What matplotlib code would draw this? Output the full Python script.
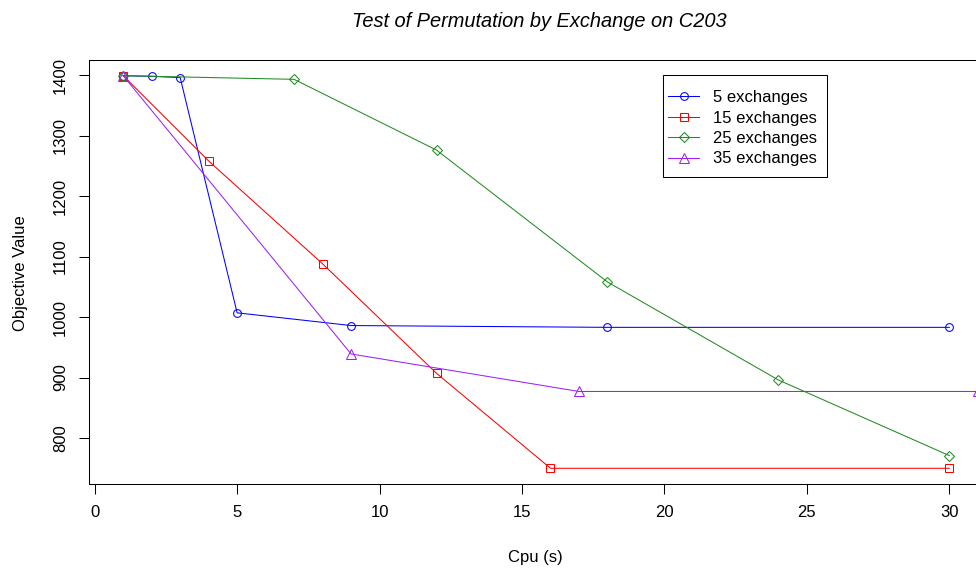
import matplotlib
matplotlib.use("Agg")
import matplotlib.pyplot as plt
from matplotlib.patches import Rectangle

# objective value reached vs cpu time, one run per exchange count
cpu_5 = [1, 2, 3, 5, 9, 18, 30]
obj_5 = [1399, 1398, 1396, 1007, 986, 983, 983]

cpu_15 = [1, 4, 8, 12, 16, 30]
obj_15 = [1399, 1258, 1088, 907, 750, 750]

cpu_25 = [1, 7, 12, 18, 24, 30]
obj_25 = [1399, 1393, 1276, 1058, 896, 771]

cpu_35 = [1, 9, 17, 31]
obj_35 = [1399, 939, 877, 877]

labels = ["5 exchanges", "15 exchanges", "25 exchanges", "35 exchanges"]
x_ticks = [0, 5, 10, 15, 20, 25, 30]
y_ticks = [800, 900, 1000, 1100, 1200, 1300, 1400]

plt.rcParams["font.family"] = ["Liberation Sans", "DejaVu Sans"]
plt.rcParams["font.size"] = 12

fig = plt.figure(figsize=(9.76, 5.7), dpi=100)
ax = fig.add_axes([89 / 976, 86 / 570, 923 / 976, 424 / 570])

lw = 0.75
ax.plot(cpu_5, obj_5, color="#0000FF", lw=lw, marker="o", ms=5.6,
        mfc="none", mew=lw, label=labels[0])
ax.plot(cpu_15, obj_15, color="#FF0000", lw=lw, marker="s", ms=5.2,
        mfc="none", mew=lw, label=labels[1])
ax.plot(cpu_25, obj_25, color="#228B22", lw=lw, marker="D", ms=4.8,
        mfc="none", mew=lw, label=labels[2])
ax.plot(cpu_35, obj_35, color="#A020F0", lw=lw, marker="^", ms=6.5,
        mfc="none", mew=lw, label=labels[3])

# R-style 4% padding around the data range
ax.margins(x=0.04, y=0.04)

ax.set_xticks(x_ticks)
ax.set_yticks(y_ticks)
ax.tick_params(direction="out", length=7.2, width=lw, pad=8, labelsize=12)
plt.setp(ax.get_yticklabels(), rotation=90, va="center")
for s in ax.spines.values():
    s.set_linewidth(lw)

fig.text(539 / 976, 1 - 27 / 570, "Test of Permutation by Exchange on C203",
         ha="center", va="baseline", fontsize=14.4, style="italic")
fig.text(535 / 976, 1 - 562 / 570, "Cpu (s)", ha="center", va="baseline",
         fontsize=12)
fig.text(21 / 976, 1 - 273 / 570, "Objective Value",
         rotation=90, ha="center", va="center", fontsize=12)

# legend entries without their own frame; the box is drawn separately
leg = ax.legend(loc="upper left", bbox_to_anchor=(668 / 976, 1 - 90 / 570),
                bbox_transform=fig.transFigure, frameon=False,
                borderaxespad=0, borderpad=0, handlelength=1.86,
                handletextpad=0.84, labelspacing=0.33, fontsize=12)
fig.add_artist(Rectangle((663 / 976, 1 - 177 / 570), 164 / 976, 102 / 570,
                         transform=fig.transFigure, fill=False,
                         edgecolor="black", lw=lw))

fig.savefig("out.png", dpi=100)
